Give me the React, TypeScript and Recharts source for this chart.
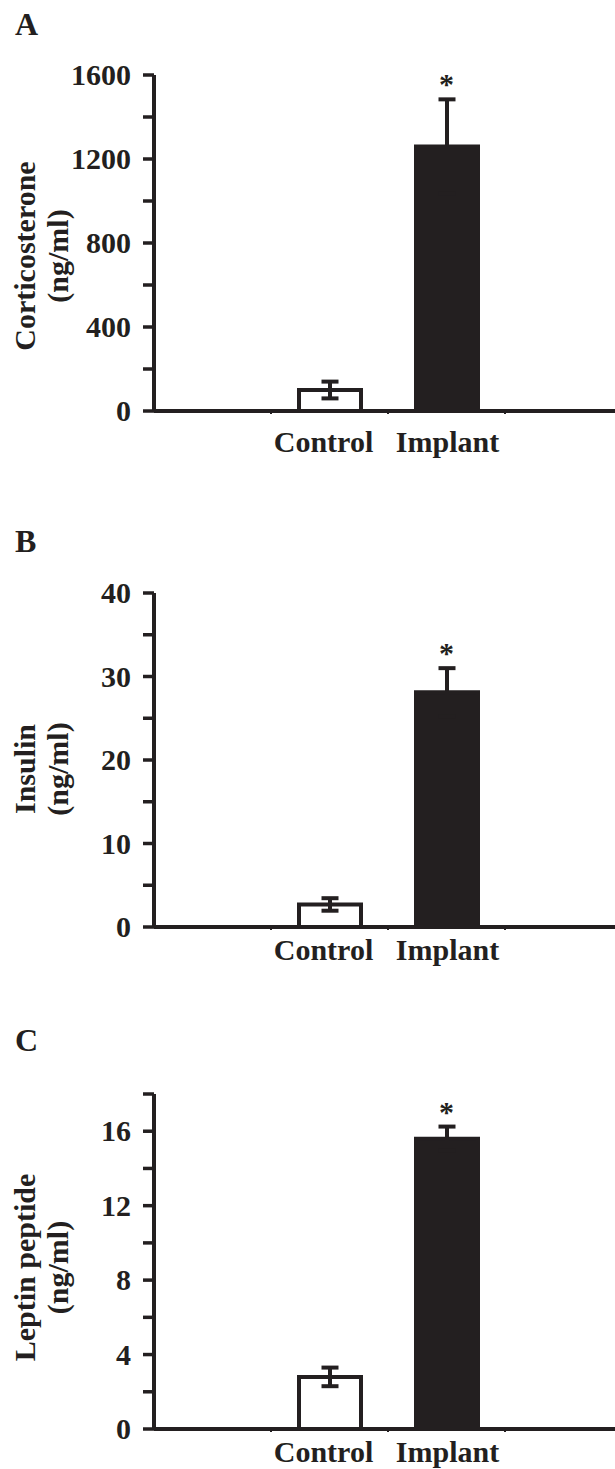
import React from "react";
import { ComposedChart, Bar, Cell, ErrorBar, Scatter, XAxis, YAxis } from "recharts";

const INK = "#231f20";
const FONT = '"Liberation Serif", "Times New Roman", serif';

// categories: empty bands left and right of the two groups
const groups = ["", "Control", "Implant", " "];
const significant = [false, false, true, false];

// A - corticosterone (ng/ml)
const corticoMean = [null, 100, 1260, null];
const corticoSem = [null, 40, 224, null];
const corticoTicks = [0, 200, 400, 600, 800, 1000, 1200, 1400, 1600];
const corticoLabels = [0, 400, 800, 1200, 1600];

// B - insulin (ng/ml)
const insulinMean = [null, 2.7, 28.1, null];
const insulinSem = [null, 0.75, 2.9, null];
const insulinTicks = [0, 5, 10, 15, 20, 25, 30, 35, 40];
const insulinLabels = [0, 10, 20, 30, 40];

// C - leptin peptide (ng/ml)
const leptinMean = [null, 2.8, 15.6, null];
const leptinSem = [null, 0.5, 0.65, null];
const leptinTicks = [0, 2, 4, 6, 8, 10, 12, 14, 16, 18];
const leptinLabels = [0, 4, 8, 12, 16];

const CHART_W = 622;
const Y_AXIS_W = 154;
const BAND = (CHART_W - Y_AXIS_W) / groups.length;

function Panel({ top, height, marginTop, plotH, axisH, mean, sem, ticks, labels, title, labelShift, catGap }: any) {
  const data = groups.map((g, i) => ({
    group: g,
    mean: mean[i],
    sem: sem[i],
    star: significant[i] && mean[i] != null ? mean[i] + sem[i] : null,
  }));

  const renderYTick = ({ x, y, payload }: any) => {
    if (!labels.includes(payload.value)) return <g />;
    return (
      <text x={x} y={y} dy={10} textAnchor="end" fontFamily={FONT} fontWeight={700} fontSize={30} fill={INK}>
        {payload.value}
      </text>
    );
  };

  const renderXTick = ({ x, y, payload }: any) => {
    const name = String(payload.value).trim();
    const nudge = name === "Control" ? -6 : 1;
    return (
      <g>
        {payload.index > 0 && (
          <line x1={x - BAND / 2} x2={x - BAND / 2} y1={y - 2} y2={y + 3} stroke={INK} strokeWidth={2} />
        )}
        {name && (
          <text x={x + nudge} y={y + catGap} textAnchor="middle" fontFamily={FONT} fontWeight={700} fontSize={30} fill={INK}>
            {name}
          </text>
        )}
      </g>
    );
  };

  const renderYLabel = (props: any) => {
    const vb = props.viewBox || props;
    const cy = vb.y + vb.height / 2 + labelShift;
    const x1 = vb.x + 35;
    const x2 = vb.x + 68;
    return (
      <g fontFamily={FONT} fontWeight={700} fontSize={30} fill={INK}>
        <text x={x1} y={cy} textAnchor="middle" transform={`rotate(-90 ${x1} ${cy})`}>
          {title}
        </text>
        <text x={x2} y={cy} textAnchor="middle" transform={`rotate(-90 ${x2} ${cy})`}>
          (ng/ml)
        </text>
      </g>
    );
  };

  const renderStar = (props: any) => {
    if (props.payload?.star == null || !Number.isFinite(props.cy)) return <g />;
    return (
      <text x={props.cx} y={props.cy - 5} textAnchor="middle" fontFamily={FONT} fontWeight={700} fontSize={30} fill={INK}>
        *
      </text>
    );
  };

  return (
    <div style={{ position: "absolute", left: 0, top }}>
      <ComposedChart
        width={CHART_W}
        height={height}
        data={data}
        margin={{ top: marginTop, right: 0, left: 0, bottom: height - marginTop - plotH - axisH }}
      >
        <XAxis
          dataKey="group"
          height={axisH}
          interval={0}
          tickSize={0}
          tickMargin={0}
          tickLine={false}
          axisLine={{ stroke: INK, strokeWidth: 4 }}
          tick={renderXTick}
        />
        <YAxis
          width={Y_AXIS_W}
          domain={[ticks[0], ticks[ticks.length - 1]]}
          ticks={ticks}
          interval={0}
          tickSize={11}
          tickMargin={12}
          axisLine={{ stroke: INK, strokeWidth: 4 }}
          tickLine={{ stroke: INK, strokeWidth: 3.5 }}
          tick={renderYTick}
          label={renderYLabel}
        />
        <Bar dataKey="mean" barSize={62} stroke={INK} strokeWidth={4} isAnimationActive={false}>
          {data.map((d, i) => (
            <Cell key={i} fill={d.group === "Implant" ? INK : "#ffffff"} />
          ))}
          <ErrorBar dataKey="sem" width={8.5} stroke={INK} strokeWidth={4} direction="y" />
        </Bar>
        <Scatter dataKey="star" shape={renderStar} isAnimationActive={false} />
      </ComposedChart>
    </div>
  );
}

export default function App() {
  return (
    <div style={{ position: "absolute", left: 0, top: 0, width: 615, height: 1469, overflow: "hidden", background: "#fff" }}>
      <svg width={615} height={1469} style={{ position: "absolute", left: 0, top: 0 }}>
        <g fontFamily={FONT} fontWeight={700} fontSize={32} fill={INK}>
          <text x={15} y={35}>A</text>
          <text x={15} y={552}>B</text>
          <text x={15} y={1051}>C</text>
        </g>
      </svg>
      <Panel
        top={0}
        height={480}
        marginTop={75}
        plotH={336}
        axisH={60}
        mean={corticoMean}
        sem={corticoSem}
        ticks={corticoTicks}
        labels={corticoLabels}
        title="Corticosterone"
        labelShift={13}
        catGap={41}
      />
      <Panel
        top={480}
        height={520}
        marginTop={113}
        plotH={334}
        axisH={60}
        mean={insulinMean}
        sem={insulinSem}
        ticks={insulinTicks}
        labels={insulinLabels}
        title="Insulin"
        labelShift={9}
        catGap={33}
      />
      <Panel
        top={1000}
        height={469}
        marginTop={94}
        plotH={335}
        axisH={40}
        mean={leptinMean}
        sem={leptinSem}
        ticks={leptinTicks}
        labels={leptinLabels}
        title="Leptin peptide"
        labelShift={6}
        catGap={33}
      />
    </div>
  );
}
